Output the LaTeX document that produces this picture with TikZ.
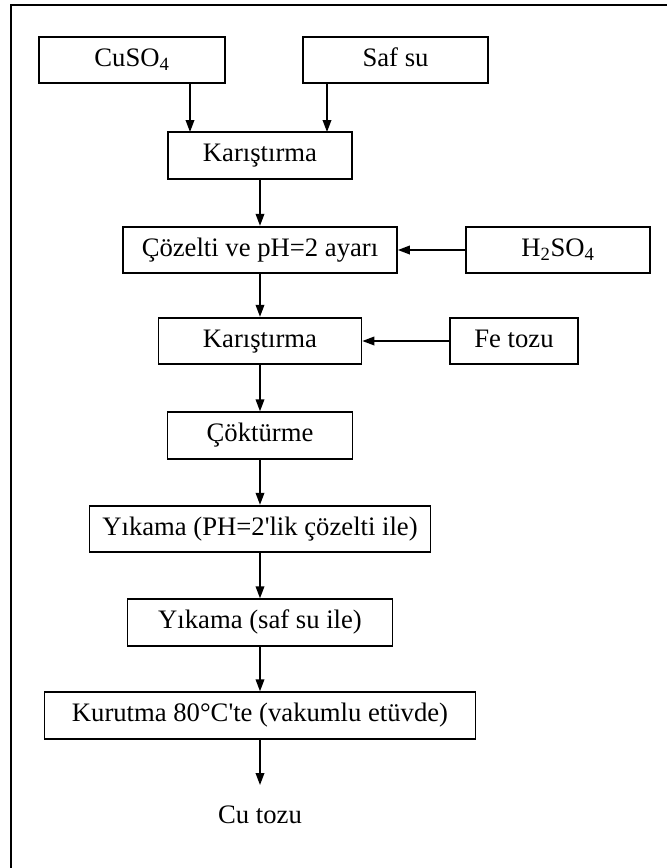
\documentclass[tikz,border=0pt]{standalone}
\usepackage{fontspec}
\setmainfont{Liberation Serif}
\usetikzlibrary{arrows.meta}

\begin{document}
\begin{tikzpicture}[x=0.75pt,y=-0.75pt,
  every node/.style={font=\fontsize{20}{24}\selectfont},
  box/.style={draw,line width=1.3pt,inner sep=0pt,minimum height=35pt,text height=13.5pt,text depth=4pt},
  arr/.style={line width=1.1pt,-{Triangle[length=9pt,width=6.5pt]}}]
\useasboundingbox (0,0) rectangle (667,868);
\clip (0,0) rectangle (667,868);
\draw [line width=1.6pt] (11,5) rectangle (700,900);
% inputs
\node [box,minimum width=139.5pt] (cuso) at (132,60) {CuSO\textsubscript{4}};
\node [box,minimum width=138.75pt] (safsu) at (395.5,60) {Saf su};
\node [box,minimum width=138pt] (h2so) at (558,250) {H\textsubscript{2}SO\textsubscript{4}};
\node [box,minimum width=96pt] (fetozu) at (514,341) {Fe tozu};
% main column
\node [box,minimum width=138pt] (karis1) at (260,155.5) {Karıştırma};
\node [box,minimum width=205.5pt] (cozelti) at (260,250) {Çözelti ve pH=2 ayarı};
\node [box,minimum width=152.25pt] (karis2) at (260,341) {Karıştırma};
\node [box,minimum width=138.75pt] (cokturme) at (260,435.5) {Çöktürme};
\node [box,minimum width=255.75pt] (yikama1) at (260,529) {Yıkama (PH=2\textquotesingle lik çözelti ile)};
\node [box,minimum width=198.75pt] (yikama2) at (260,622.5) {Yıkama (saf su ile)};
\node [box,minimum width=323.25pt] (kurutma) at (260,715.5) {Kurutma 80°C\textquotesingle te (vakumlu etüvde)};
\node (cutozu) at (260,815) {Cu tozu};
\coordinate (in1) at (190,132);
\coordinate (in2) at (327,132);
\coordinate (out) at (260,785);
% arrows
\draw [arr] (cuso.south -| in1) -- (in1);
\draw [arr] (safsu.south -| in2) -- (in2);
\draw [arr] (karis1) -- (cozelti);
\draw [arr] (h2so) -- (cozelti);
\draw [arr] (cozelti) -- (karis2);
\draw [arr] (fetozu) -- (karis2);
\draw [arr] (karis2) -- (cokturme);
\draw [arr] (cokturme) -- (yikama1);
\draw [arr] (yikama1) -- (yikama2);
\draw [arr] (yikama2) -- (kurutma);
\draw [arr] (kurutma) -- (out);
\end{tikzpicture}
\end{document}
